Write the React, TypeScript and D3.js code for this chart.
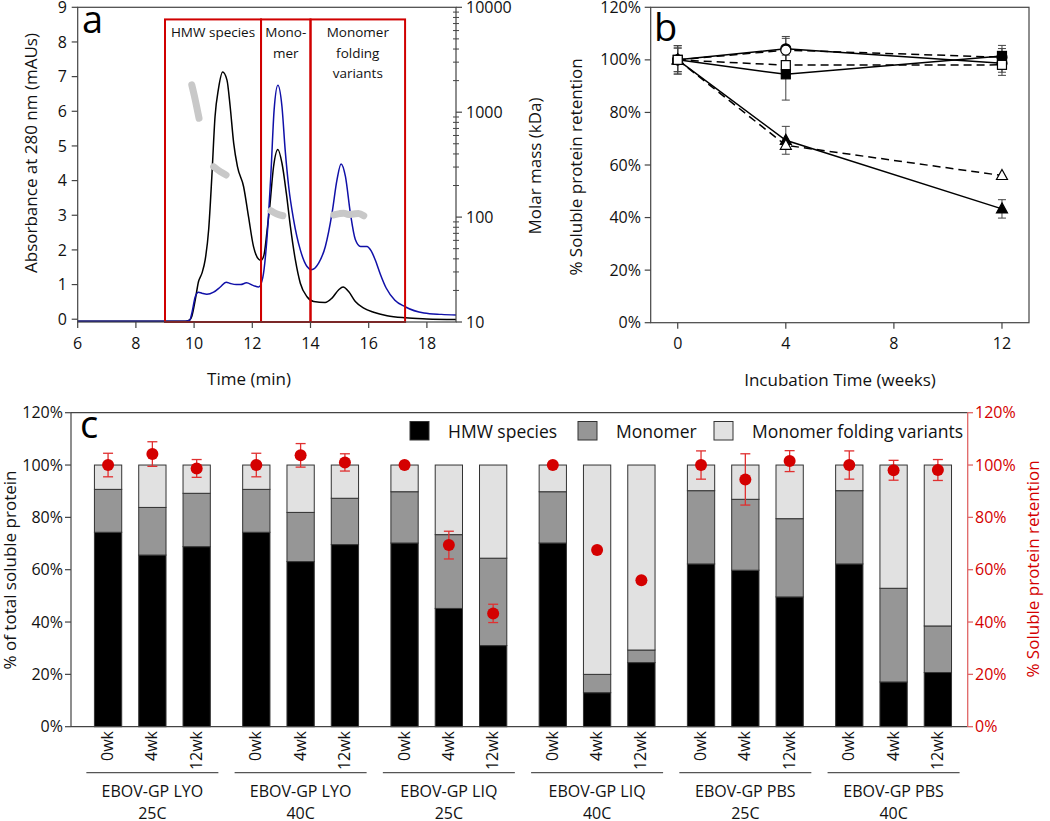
import React from 'react';
import * as d3 from 'd3';

const FONT = "'Open Sans', sans-serif";

// ---------- Panel a data ----------
const blackTrace: [number, number][] = [
  [6, -0.06], [8, -0.06], [9.7, -0.06], [9.85, -0.02], [9.92, 0.08], [10.04, 0.56], [10.15, 1.08], [10.27, 1.33],
  [10.38, 1.71], [10.5, 2.58], [10.61, 4.12], [10.72, 5.85], [10.84, 6.66], [10.98, 7.13], [11.13, 6.9],
  [11.24, 6.13], [11.36, 5.08], [11.49, 4.4], [11.7, 3.83], [11.87, 2.96], [12.04, 2.1], [12.22, 1.73],
  [12.3, 1.7], [12.4, 1.85], [12.5, 2.5], [12.6, 3.25], [12.73, 4.4], [12.88, 4.9], [13.02, 4.5],
  [13.17, 3.63], [13.31, 2.67], [13.48, 1.71], [13.65, 1.04], [13.88, 0.65], [14.11, 0.51], [14.5, 0.48],
  [14.74, 0.61], [14.97, 0.85], [15.12, 0.93], [15.31, 0.8], [15.54, 0.51], [15.83, 0.32], [16.17, 0.2],
  [16.63, 0.1], [17.26, 0.04], [18, 0.01], [19, -0.01],
];
const blueTrace: [number, number][] = [
  [6, -0.06], [8, -0.06], [9.7, -0.06], [9.85, -0.03], [9.92, 0.17], [10.04, 0.65], [10.15, 0.78], [10.27, 0.75],
  [10.44, 0.72], [10.67, 0.78], [10.9, 0.93], [11.1, 1.07], [11.25, 1.03], [11.45, 1.0], [11.6, 1.0],
  [11.8, 1.05], [12.04, 0.97], [12.22, 0.93], [12.36, 1.2], [12.5, 2.29], [12.64, 4.21], [12.75, 6.04],
  [12.88, 6.75], [13.02, 6.13], [13.13, 4.88], [13.25, 3.83], [13.42, 2.87], [13.65, 2.0], [13.88, 1.52],
  [14.03, 1.43], [14.28, 1.62], [14.51, 2.1], [14.74, 3.06], [14.91, 4.02], [15.05, 4.48], [15.2, 4.12],
  [15.37, 3.06], [15.54, 2.3], [15.72, 2.1], [15.94, 2.1], [16.08, 1.98], [16.23, 1.7], [16.4, 1.3],
  [16.6, 0.9], [16.9, 0.55], [17.25, 0.36], [17.9, 0.18], [18.5, 0.14], [19, 0.12],
];
const massSeg1: [number, number][] = [[9.92, 1820], [10.04, 1310], [10.17, 875]];
const massSeg2: [number, number][] = [[10.67, 303], [10.9, 271], [11.1, 252]];
const massSeg3: [number, number][] = [[12.64, 115], [12.85, 107], [13.05, 103]];
const massSeg4: [number, number][] = [[14.8, 105], [15.0, 108], [15.14, 109], [15.3, 106], [15.48, 107], [15.65, 108], [15.83, 103]];
const regionLabels = [["HMW species"], ["Mono-", "mer"], ["Monomer", "folding", "variants"]];
const regionStart = [9, 12.3, 14];
const regionEnd = [12.3, 14, 17.25];
const regionTop = 8.65;
const absTicks = [0, 1, 2, 3, 4, 5, 6, 7, 8, 9];
const timeTicks = [6, 8, 10, 12, 14, 16, 18];
const massTicks = [10, 100, 1000, 10000];

// ---------- Panel b / c data ----------
const weeks = [0, 4, 12];
const weekLabels = ["0wk", "4wk", "12wk"];
const groupLine1 = ["EBOV-GP LYO", "EBOV-GP LYO", "EBOV-GP LIQ", "EBOV-GP LIQ", "EBOV-GP PBS", "EBOV-GP PBS"];
const groupLine2 = ["25C", "40C", "25C", "40C", "25C", "40C"];
const retention = [
  [100, 104.2, 98.7], [100, 103.7, 101], [100, 69.4, 43.3], [100, 67.5, 56], [100, 94.5, 101.5], [100, 98, 98.1],
];
const retentionErr = [
  [4.5, 4.7, 3.4], [4.5, 4.5, 3.3], [0, 5.3, 3.5], [0, 0, 0], [5.4, 9.8, 4], [5.4, 3.8, 4],
];
const hmwPct = [
  [74.3, 65.6, 68.8], [74.3, 63.1, 69.6], [70.2, 45.2, 31.0], [70.2, 13.0, 24.5], [62.2, 59.8, 49.6], [62.2, 17.1, 20.7],
];
const monomerPct = [
  [16.4, 18.2, 20.4], [16.4, 18.8, 17.7], [19.6, 28.2, 33.4], [19.6, 7.0, 4.8], [28.0, 27.1, 29.9], [28.0, 35.8, 17.8],
];
const variantPct = [
  [9.3, 16.2, 10.8], [9.3, 18.1, 12.7], [10.2, 26.6, 35.6], [10.2, 80.0, 70.7], [9.8, 13.1, 20.5], [9.8, 47.1, 61.5],
];
const stackKeys = ["HMW species", "Monomer", "Monomer folding variants"];
const pctTicks = [0, 20, 40, 60, 80, 100, 120];
const weekTicks = [0, 4, 8, 12];
// panel b marker styles per series (LYO, LIQ, PBS x 25C/40C)
const markerShape = ["circle", "circle", "triangle", "triangle", "square", "square"];
const markerFilled = [true, false, true, false, true, false];
const lineDashed = [false, true, false, true, false, true];

const AXIS = "#444";
const RED = "#d40000";

export default function App() {
  // ---- panel a scales
  const ax = d3.scaleLinear().domain([6, 19]).range([77.7, 456]);
  const ay = d3.scaleLinear().domain([-0.08, 9]).range([322, 7.3]);
  const am = d3.scaleLog().domain([10, 10000]).range([322, 7.3]);
  const absLine = d3.line<[number, number]>().x(d => ax(d[0])).y(d => ay(d[1])).curve(d3.curveMonotoneX);
  const massLine = d3.line<[number, number]>().x(d => ax(d[0])).y(d => am(d[1])).curve(d3.curveMonotoneX);
  const minorMass: number[] = [];
  [10, 100, 1000].forEach(dec => { for (let k = 2; k <= 9; k++) minorMass.push(dec * k); });

  // ---- panel b scales
  const bx = d3.scaleLinear().domain([-1, 13]).range([650.7, 1029]);
  const by = d3.scaleLinear().domain([0, 120]).range([322.7, 7.3]);
  const bLine = d3.line<[number, number]>().x(d => bx(d[0])).y(d => by(d[1]));

  // ---- panel c scales
  const gx = d3.scaleBand<number>().domain(d3.range(6)).range([78.25, 967.7]);
  const wx = d3.scaleBand<string>().domain(weekLabels).range([-66.45, 66.45]).paddingInner(0.384).paddingOuter(0.192);
  const cy = d3.scaleLinear().domain([0, 120]).range([726.7, 412.7]);
  const cyR = d3.scaleLinear().domain([0, 120]).range([726.7, 412.7]);
  const table: any[] = [];
  groupLine1.forEach((_, g) => weekLabels.forEach((w, i) => {
    table.push({ g, w, i, [stackKeys[0]]: hmwPct[g][i], [stackKeys[1]]: monomerPct[g][i], [stackKeys[2]]: variantPct[g][i] });
  }));
  const stacked = d3.stack().keys(stackKeys)(table);
  const fills = ["#000000", "#969696", "#e1e1e1"];
  const gCenter = (g: number) => (gx(g) as number) + gx.bandwidth() / 2;
  const barX = (g: number, w: string) => gCenter(g) + (wx(w) as number);
  const bw = wx.bandwidth();

  const marker = (s: number, x: number, y: number, key: string) => {
    const fill = markerFilled[s] ? "#000" : "#fff";
    const shape = markerShape[s];
    if (shape === "circle") return <circle key={key} cx={x} cy={y} r={5} fill={fill} stroke="#000" strokeWidth={1.2} />;
    if (shape === "square") return <rect key={key} x={x - 4.5} y={y - 4.5} width={9} height={9} fill={fill} stroke="#000" strokeWidth={1.2} />;
    const h = 10;
    return <path key={key} d={`M${x},${y - h * 0.6}L${x + 5.5},${y + h * 0.4}L${x - 5.5},${y + h * 0.4}Z`} fill={fill} stroke="#000" strokeWidth={1.2} />;
  };

  return (
    <svg width={1050} height={821} style={{ position: "absolute", left: 0, top: 0, background: "#fff" }} fontFamily={FONT}>
      <rect width={1050} height={821} fill="#fff" />
      {/* ================= Panel a ================= */}
      <g>
        {massTicks.map(m => null)}
        <path d={absLine(blackTrace) || ""} fill="none" stroke="#000" strokeWidth={1.5} />
        <path d={absLine(blueTrace) || ""} fill="none" stroke="#1010a8" strokeWidth={1.5} />
        {[massSeg1, massSeg2, massSeg3, massSeg4].map((seg, i) => (
          <path key={i} d={massLine(seg) || ""} fill="none" stroke="#c8c8c8" strokeWidth={7} strokeLinecap="round" strokeLinejoin="round" />
        ))}
        {regionStart.map((s, i) => (
          <rect key={i} x={ax(s)} y={ay(regionTop)} width={ax(regionEnd[i]) - ax(s)} height={ay(-0.08) - ay(regionTop)}
            fill="none" stroke="#d00000" strokeWidth={2} />
        ))}
        {regionLabels.map((lines, i) => lines.map((t, j) => (
          <text key={i + "-" + j} x={(ax(regionStart[i]) + ax(regionEnd[i])) / 2} y={37 + j * 20.5} textAnchor="middle" fontSize={13.5} fill="#111">{t}</text>
        )))}
        {/* frame */}
        <rect x={ax(6)} y={ay(9)} width={ax(19) - ax(6)} height={ay(-0.08) - ay(9)} fill="none" stroke={AXIS} strokeWidth={1.2} />
        {absTicks.map(t => (
          <g key={t}>
            <line x1={ax(6) - 6} x2={ax(6)} y1={ay(t)} y2={ay(t)} stroke={AXIS} strokeWidth={1.2} />
            <text x={67} y={ay(t)} dy="0.35em" textAnchor="end" fontSize={16} fill="#111">{t}</text>
          </g>
        ))}
        {timeTicks.map(t => (
          <g key={t}>
            <line x1={ax(t)} x2={ax(t)} y1={ay(-0.08)} y2={ay(-0.08) + 6} stroke={AXIS} strokeWidth={1.2} />
            <text x={ax(t)} y={343} dy="0.35em" textAnchor="middle" fontSize={16} fill="#111">{t}</text>
          </g>
        ))}
        {massTicks.map(m => (
          <g key={m}>
            <line x1={ax(19)} x2={ax(19) + 6} y1={am(m)} y2={am(m)} stroke={AXIS} strokeWidth={1.2} />
            <text x={466} y={am(m)} dy="0.35em" fontSize={16} fill="#111">{m}</text>
          </g>
        ))}
        {minorMass.map(m => (
          <line key={m} x1={ax(19) - 3} x2={ax(19) + 3} y1={am(m)} y2={am(m)} stroke={AXIS} strokeWidth={1} />
        ))}
        <text x={249} y={379} dy="0.35em" textAnchor="middle" fontSize={17} fill="#111">Time (min)</text>
        <text transform={`translate(31,153) rotate(-90)`} dy="0.35em" textAnchor="middle" fontSize={17} fill="#111">Absorbance at 280 nm (mAUs)</text>
        <text transform={`translate(535,166) rotate(-90)`} dy="0.35em" textAnchor="middle" fontSize={17} fill="#111">Molar mass (kDa)</text>
        <text x={82} y={33} fontSize={38} fill="#000">a</text>
      </g>

      {/* ================= Panel b ================= */}
      <g>
        <rect x={bx(-1)} y={by(120)} width={bx(13) - bx(-1)} height={by(0) - by(120)} fill="none" stroke={AXIS} strokeWidth={1.2} />
        {pctTicks.map(t => (
          <g key={t}>
            <line x1={bx(-1) - 6} x2={bx(-1)} y1={by(t)} y2={by(t)} stroke={AXIS} strokeWidth={1.2} />
            <text x={641} y={by(t)} dy="0.35em" textAnchor="end" fontSize={16} fill="#111">{t}%</text>
          </g>
        ))}
        {weekTicks.map(t => (
          <g key={t}>
            <line x1={bx(t)} x2={bx(t)} y1={by(0)} y2={by(0) + 6} stroke={AXIS} strokeWidth={1.2} />
            <text x={bx(t)} y={343} dy="0.35em" textAnchor="middle" fontSize={16} fill="#111">{t}</text>
          </g>
        ))}
        {retention.map((vals, s) => (
          <path key={"l" + s} d={bLine(weeks.map((w, i) => [w, vals[i]] as [number, number])) || ""} fill="none" stroke="#000"
            strokeWidth={1.5} strokeDasharray={lineDashed[s] ? "8,5" : undefined} />
        ))}
        {retention.map((vals, s) => weeks.map((w, i) => {
          const e = retentionErr[s][i];
          if (!e) return null;
          const x = bx(w);
          return (
            <g key={"e" + s + i} stroke="#444" strokeWidth={1}>
              <line x1={x} x2={x} y1={by(vals[i] - e)} y2={by(vals[i] + e)} />
              <line x1={x - 4} x2={x + 4} y1={by(vals[i] - e)} y2={by(vals[i] - e)} />
              <line x1={x - 4} x2={x + 4} y1={by(vals[i] + e)} y2={by(vals[i] + e)} />
            </g>
          );
        }))}
        {retention.map((vals, s) => weeks.map((w, i) => marker(s, bx(w), by(vals[i]), "m" + s + i)))}
        <text x={840} y={380} dy="0.35em" textAnchor="middle" fontSize={17} fill="#111">Incubation Time (weeks)</text>
        <text transform={`translate(576,167) rotate(-90)`} dy="0.35em" textAnchor="middle" fontSize={17} fill="#111">% Soluble protein retention</text>
        <text x={654} y={41} fontSize={38} fill="#000">b</text>
      </g>

      {/* ================= Panel c ================= */}
      <g>
        {stacked.map((layer, k) => layer.map((d: any, j: number) => {
          const row = table[j];
          return (
            <rect key={k + "-" + j} x={barX(row.g, row.w)} width={bw} y={cy(d[1])} height={cy(d[0]) - cy(d[1])}
              fill={fills[k]} stroke="#333" strokeWidth={1} />
          );
        }))}
        {/* axes */}
        <line x1={71} x2={967.7} y1={cy(120)} y2={cy(120)} stroke={AXIS} strokeWidth={1.2} />
        <line x1={71} x2={967.7} y1={cy(0)} y2={cy(0)} stroke={AXIS} strokeWidth={1.2} />
        <line x1={71} x2={71} y1={cy(0)} y2={cy(120)} stroke={AXIS} strokeWidth={1.2} />
        <line x1={967.7} x2={967.7} y1={cyR(0)} y2={cyR(120)} stroke="#e06666" strokeWidth={1.3} />
        {pctTicks.map(t => (
          <g key={t}>
            <line x1={65} x2={71} y1={cy(t)} y2={cy(t)} stroke={AXIS} strokeWidth={1.2} />
            <text x={63} y={cy(t)} dy="0.35em" textAnchor="end" fontSize={16} fill="#111">{t}%</text>
            <line x1={967.7} x2={973} y1={cyR(t)} y2={cyR(t)} stroke="#e06666" strokeWidth={1.3} />
            <text x={975} y={cyR(t)} dy="0.35em" fontSize={16} fill={RED}>{t}%</text>
          </g>
        ))}
        {/* retention dots */}
        {retention.map((vals, g) => weekLabels.map((w, i) => {
          const x = barX(g, w) + bw / 2;
          const e = retentionErr[g][i];
          return (
            <g key={"r" + g + i}>
              {e > 0 && (
                <g stroke="#e03030" strokeWidth={1.3}>
                  <line x1={x} x2={x} y1={cyR(vals[i] - e)} y2={cyR(vals[i] + e)} />
                  <line x1={x - 5} x2={x + 5} y1={cyR(vals[i] - e)} y2={cyR(vals[i] - e)} />
                  <line x1={x - 5} x2={x + 5} y1={cyR(vals[i] + e)} y2={cyR(vals[i] + e)} />
                </g>
              )}
              <circle cx={x} cy={cyR(vals[i])} r={6} fill={RED} />
            </g>
          );
        }))}
        {/* category labels */}
        {groupLine1.map((_, g) => weekLabels.map(w => (
          <text key={"w" + g + w} transform={`translate(${barX(g, w) + bw / 2 + 5},731) rotate(-90)`} textAnchor="end" fontSize={16} fill="#111">{w}</text>
        )))}
        {groupLine1.map((t, g) => (
          <g key={"g" + g}>
            <line x1={gCenter(g) - 66} x2={gCenter(g) + 66} y1={772.7} y2={772.7} stroke="#555" strokeWidth={1.2} />
            <text x={gCenter(g)} y={797} textAnchor="middle" fontSize={16} fill="#111">{t}</text>
            <text x={gCenter(g)} y={819} textAnchor="middle" fontSize={16} fill="#111">{groupLine2[g]}</text>
          </g>
        ))}
        {/* legend */}
        {stackKeys.map((k, i) => {
          const sx = [410, 578, 714][i];
          return (
            <g key={"lg" + i}>
              <rect x={sx} y={421.5} width={19} height={18.5} fill={fills[i]} stroke="#333" strokeWidth={1} />
              <text x={sx + 38} y={438} fontSize={17.5} fill="#111">{k}</text>
            </g>
          );
        })}
        <text transform={`translate(10,570) rotate(-90)`} dy="0.35em" textAnchor="middle" fontSize={17} fill="#111">% of total soluble protein</text>
        <text transform={`translate(1033,569) rotate(-90)`} dy="0.35em" textAnchor="middle" fontSize={17} fill={RED}>% Soluble protein retention</text>
        <text x={80} y={438} fontSize={38} fill="#000">c</text>
      </g>
    </svg>
  );
}
